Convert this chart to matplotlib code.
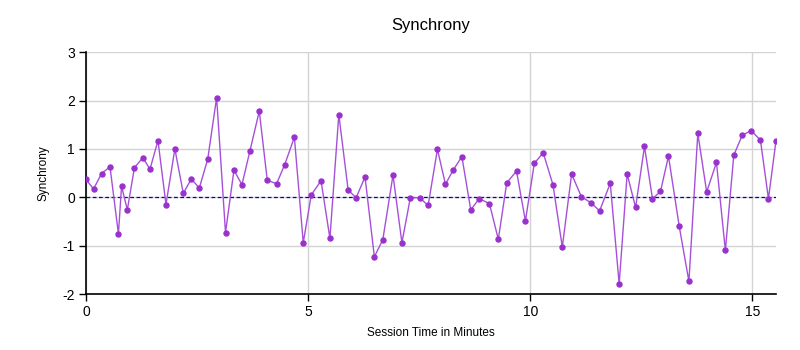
import matplotlib
matplotlib.use("Agg")
import matplotlib.pyplot as plt

plt.rcParams['font.family'] = ['Liberation Sans', 'DejaVu Sans']
plt.rcParams['axes.unicode_minus'] = False

# session time (minutes) and synchrony score per sample
minutes = [0.00, 0.17, 0.35, 0.54, 0.73, 0.80, 0.93, 1.09, 1.28, 1.44,
           1.62, 1.80, 2.00, 2.19, 2.37, 2.55, 2.74, 2.94, 3.14, 3.33,
           3.51, 3.69, 3.90, 4.08, 4.29, 4.47, 4.69, 4.89, 5.07, 5.29,
           5.49, 5.69, 5.90, 6.08, 6.28, 6.49, 6.68, 6.91, 7.11, 7.30,
           7.51, 7.70, 7.91, 8.09, 8.27, 8.46, 8.66, 8.85, 9.08, 9.28,
           9.47, 9.69, 9.89, 10.09, 10.29, 10.51, 10.72, 10.93, 11.15, 11.36,
           11.56, 11.80, 12.00, 12.18, 12.37, 12.57, 12.75, 12.93, 13.11, 13.35,
           13.57, 13.77, 13.97, 14.19, 14.39, 14.58, 14.77, 14.97, 15.18, 15.36,
           15.53]
synchrony = [0.37, 0.17, 0.49, 0.63, -0.76, 0.23, -0.26, 0.61, 0.82, 0.58,
             1.17, -0.15, 1.00, 0.08, 0.38, 0.19, 0.79, 2.06, -0.73, 0.56,
             0.26, 0.96, 1.78, 0.35, 0.28, 0.67, 1.24, -0.94, 0.05, 0.34,
             -0.85, 1.71, 0.15, -0.01, 0.42, -1.23, -0.88, 0.46, -0.94, -0.01,
             -0.01, -0.17, 0.99, 0.27, 0.57, 0.84, -0.26, -0.03, -0.13, -0.87,
             0.30, 0.54, -0.49, 0.70, 0.92, 0.26, -1.03, 0.48, 0.01, -0.11,
             -0.28, 0.29, -1.79, 0.48, -0.21, 1.05, -0.03, 0.12, 0.85, -0.59,
             -1.74, 1.32, 0.11, 0.72, -1.10, 0.87, 1.28, 1.38, 1.18, -0.03,
             1.17]

fig = plt.figure(figsize=(8, 3.5), dpi=100)
ax = fig.add_axes([0.1075, 0.16, 0.8625, 0.691])

ax.plot(minutes, synchrony, color='#A650DA', linewidth=1, zorder=3)
ax.plot(minutes, synchrony, 'o', color='#9932CC', markersize=3.6, zorder=4)
ax.axhline(0, color='#0000CC', linestyle='--', linewidth=0.9, dashes=(3, 2), zorder=2)

ax.set_xlim(0, 15.53)
ax.set_ylim(-2, 3)
ax.set_xticks([0, 5, 10, 15])
ax.set_yticks([-2, -1, 0, 1, 2, 3])
ax.grid(True, color='#D3D3D3', linewidth=1)
ax.set_axisbelow(True)

for side in ('top', 'right'):
    ax.spines[side].set_visible(False)
ax.spines['left'].set_linewidth(1.2)
ax.spines['bottom'].set_linewidth(1.2)
ax.tick_params(axis='both', direction='out', length=5, width=1, labelsize=10, pad=3)

ax.set_title('Synchrony', fontsize=12, pad=16)
ax.set_xlabel('Session Time in Minutes', fontsize=8.5, labelpad=6)
ax.set_ylabel('Synchrony', fontsize=8.5, labelpad=9)

fig.savefig('out.png', dpi=100)
